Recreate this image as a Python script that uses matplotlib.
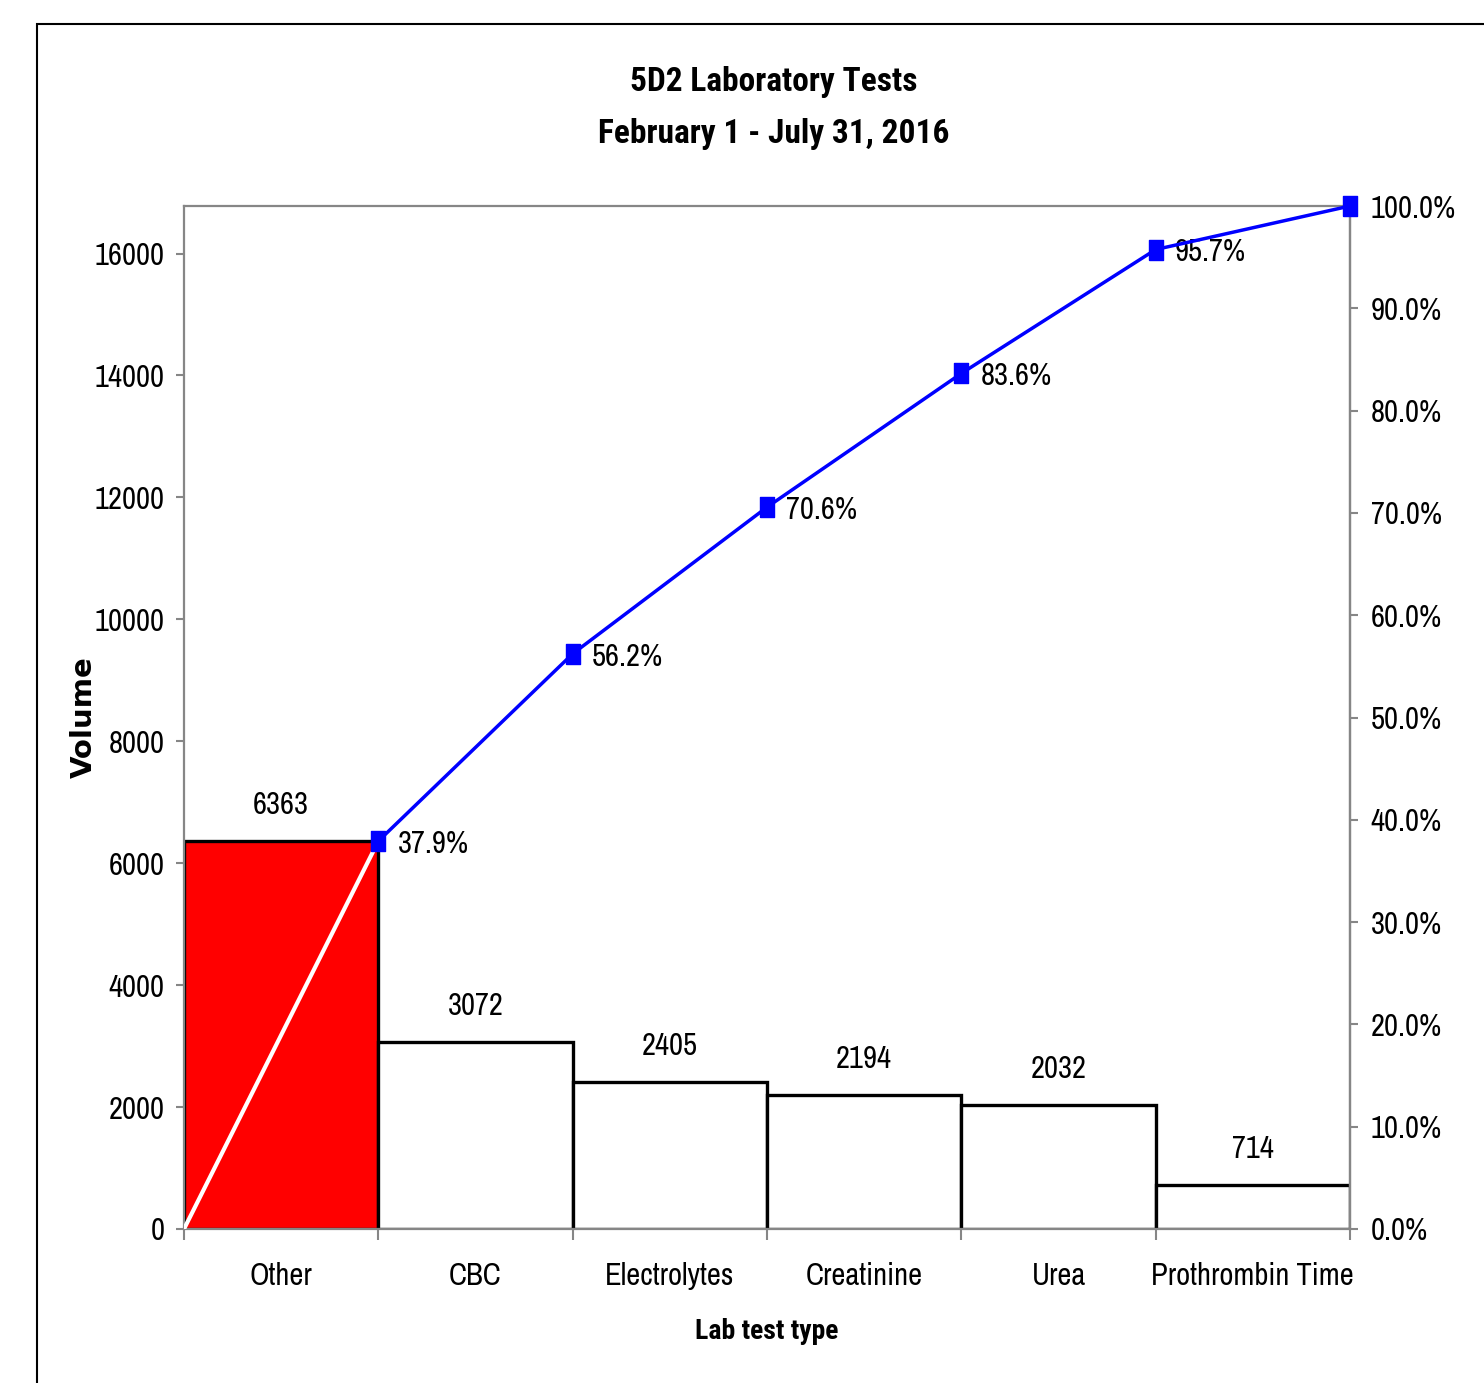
import numpy as np
import matplotlib
matplotlib.use("Agg")
import matplotlib.pyplot as plt
from matplotlib import font_manager as fm
from matplotlib.patches import Rectangle
from matplotlib.ticker import FuncFormatter, MultipleLocator

plt.rcParams["font.family"] = ["Archivo Narrow", "Liberation Sans", "DejaVu Sans"]

# narrow family that actually ships a bold face, for titles
_bold_faces = {f.name for f in fm.fontManager.ttflist if f.weight in (600, 700, "bold", "semibold")}
BOLD_FAMILY = next((n for n in ["Roboto Condensed", "Archivo Narrow", "PT Sans Narrow",
                                "Open Sans Condensed", "Sofia Sans Condensed",
                                "Saira SemiCondensed", "Liberation Sans"] if n in _bold_faces),
                   "DejaVu Sans")

# Lab test volumes, Feb 1 - Jul 31 2016
test_types = ["Other", "CBC", "Electrolytes", "Creatinine", "Urea", "Prothrombin Time"]
volumes = [6363, 3072, 2405, 2194, 2032, 714]
bar_colors = ["#FF0000", "white", "white", "white", "white", "white"]

total = sum(volumes)
cum_pct = np.cumsum(volumes) / total * 100.0

GRAY = "#868686"
BLUE = "#0000FF"
FS = 22

fig = plt.figure(figsize=(14.84, 13.83), dpi=100)
ax = fig.add_axes([184 / 1484, 1 - 1229 / 1383, (1350 - 184) / 1484, (1229 - 206) / 1383])

x = np.arange(len(volumes))
ax.bar(x, volumes, width=1.0, align="edge", color=bar_colors,
       edgecolor="black", linewidth=2.4, zorder=1)

for xi, v in zip(x, volumes):
    ax.annotate(f"{v}", (xi + 0.5, v), xytext=(0, 26), textcoords="offset points",
                ha="center", va="center", fontsize=FS)

ax.set_xlim(0, len(volumes))
ax.set_ylim(0, total)
ax.yaxis.set_major_locator(MultipleLocator(2000))

# ticks on category boundaries, labels in the middle of each bar
ax.set_xticks(np.arange(len(volumes) + 1))
ax.set_xticklabels([])
ax.set_xticks(x + 0.5, minor=True)
ax.set_xticklabels(test_types, minor=True, fontsize=FS)
ax.tick_params(axis="x", which="major", direction="out", length=8, width=1.5, color=GRAY)
ax.tick_params(axis="x", which="minor", length=0, pad=24)
ax.tick_params(axis="y", direction="out", length=6, width=1.5, color=GRAY, pad=8, labelsize=FS)

for s in ax.spines.values():
    s.set_color(GRAY)
    s.set_linewidth(1.6)

ax.set_xlabel("Lab test type", fontsize=20, fontweight="bold", family=BOLD_FAMILY)
ax.xaxis.set_label_coords(0.5, -0.087)
ax.set_ylabel("Volume", fontsize=21, fontweight="bold", family="DejaVu Sans")
ax.yaxis.set_label_coords(-0.074, 0.5)

# cumulative percentage on the secondary axis
ax2 = ax.twinx()
ax2.set_ylim(0, 100)
ax2.yaxis.set_major_locator(MultipleLocator(10))
ax2.yaxis.set_major_formatter(FuncFormatter(lambda v, _: f"{v:.1f}%"))
ax2.tick_params(axis="y", direction="out", length=6, width=1.5, color=GRAY, pad=9, labelsize=FS)
for name, s in ax2.spines.items():
    s.set_color(GRAY)
    s.set_linewidth(1.6)
    if name != "right":
        s.set_visible(False)

ax2.plot([0, 1], [0, cum_pct[0]], color="white", linewidth=3, zorder=3)

rect_marker = [(-0.7, -1), (0.7, -1), (0.7, 1), (-0.7, 1), (-0.7, -1)]
ax2.plot(x + 1, cum_pct, color=BLUE, linewidth=2.5, marker=rect_marker,
         markersize=15, markerfacecolor=BLUE, markeredgecolor=BLUE,
         clip_on=False, zorder=4)

for xi, p in zip(x[:-1] + 1, cum_pct[:-1]):
    ax2.annotate(f"{p:.1f}%", (xi, p), xytext=(14, -2), textcoords="offset points",
                 ha="left", va="center", fontsize=FS)

fig.text(774 / 1484, 1 - 82 / 1383, "5D2 Laboratory Tests", ha="center", va="center",
         fontsize=24, fontweight="bold", family=BOLD_FAMILY)
fig.text(774 / 1484, 1 - 134 / 1383, "February 1 - July 31, 2016", ha="center", va="center",
         fontsize=24, fontweight="bold", family=BOLD_FAMILY)

# chart frame, running off the right and bottom edges
fig.patches.append(Rectangle((37 / 1484, -0.1), 2.0, 1.1 - 24 / 1383, transform=fig.transFigure,
                             fill=False, edgecolor="black", linewidth=1.5))

fig.savefig("out.png", dpi=100)
